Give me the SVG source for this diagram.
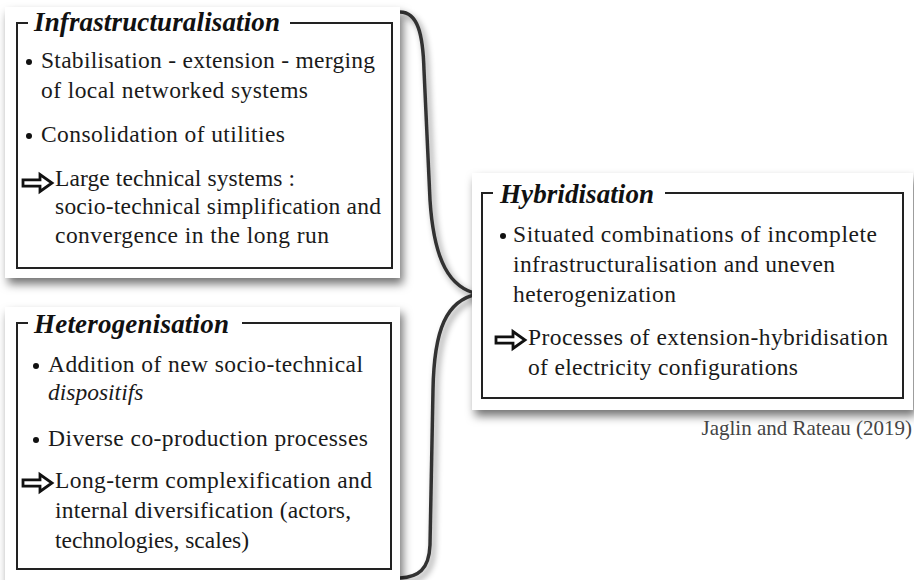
<svg xmlns="http://www.w3.org/2000/svg" width="914" height="580" viewBox="0 0 914 580">
<style>
.t{font-family:"Liberation Serif","Times New Roman",serif;font-size:23.5px;fill:#1a1a1a}
.h{font-family:"Liberation Serif","Times New Roman",serif;font-size:27px;font-weight:bold;font-style:italic;fill:#111}
.i{font-style:italic}
.frame{fill:none;stroke:#222;stroke-width:2}
.panel{fill:#fff;filter:url(#sh)}
.cap{font-family:"Liberation Serif","Times New Roman",serif;font-size:21px;fill:#444}
.b{fill:#111}
</style>
<defs>
<filter id="sh" x="-10%" y="-10%" width="125%" height="130%">
<feDropShadow dx="3" dy="6" stdDeviation="5" flood-color="#000" flood-opacity="0.55"/>
</filter>
<filter id="bsh" x="-30%" y="-5%" width="160%" height="110%">
<feDropShadow dx="3" dy="4" stdDeviation="3" flood-color="#000" flood-opacity="0.45"/>
</filter>
<path id="arr" d="M0,-3.2 L17,-3.2 L17,-8.5 L29,0 L17,8.5 L17,3.2 L0,3.2 Z" fill="#fff" stroke="#111" stroke-width="2.8" stroke-linejoin="miter"/>
</defs>
<rect width="914" height="580" fill="#fff"/>

<g id="connectors">
<path d="M400,12 C418,12 423,35 424,70 L430,200 C434,262 450,288 478,294 C446,300 434,330 433,390 L430,545 C429,570 418,577 400,578" fill="none" stroke="#333" stroke-width="3.5" filter="url(#bsh)"/>
</g>

<g id="infrastructuralisation">
<rect class="panel" x="5" y="7" width="395" height="271"/>
<path class="frame" d="M28,23 L17,23 L17,268 L392,268 L392,23 L290,23"/>
<text class="h" x="34" y="31" textLength="246">Infrastructuralisation</text>
<circle class="b" cx="29" cy="62" r="3"/>
<text class="t" x="41" y="68" textLength="334">Stabilisation - extension - merging</text>
<text class="t" x="41" y="98" textLength="267">of local networked systems</text>
<circle class="b" cx="29" cy="136" r="3"/>
<text class="t" x="41" y="142" textLength="244">Consolidation of utilities</text>
<use href="#arr" x="23" y="183"/>
<text class="t" x="55" y="186" textLength="240">Large technical systems :</text>
<text class="t" x="55" y="214" textLength="326">socio-technical simplification and</text>
<text class="t" x="55" y="243" textLength="274">convergence in the long run</text>
</g>

<g id="heterogenisation">
<rect class="panel" x="5" y="307" width="395" height="280"/>
<path class="frame" d="M28,323 L17,323 L17,569 L391,569 L391,323 L242,323"/>
<text class="h" x="34" y="333" textLength="195">Heterogenisation</text>
<circle class="b" cx="36" cy="366" r="3"/>
<text class="t" x="48" y="372" textLength="315">Addition of new socio-technical</text>
<text class="t i" x="48" y="400">dispositifs</text>
<circle class="b" cx="36" cy="440" r="3"/>
<text class="t" x="48" y="446" textLength="320">Diverse co-production processes</text>
<use href="#arr" x="23" y="483"/>
<text class="t" x="55" y="488" textLength="317">Long-term complexification and</text>
<text class="t" x="55" y="518" textLength="296">internal diversification (actors,</text>
<text class="t" x="55" y="548" textLength="194">technologies, scales)</text>
</g>

<g id="hybridisation">
<rect class="panel" x="472" y="173" width="441" height="237"/>
<path class="frame" d="M493,193 L482,193 L482,398 L903,398 L903,193 L665,193"/>
<text class="h" x="500" y="203" textLength="154">Hybridisation</text>
<circle class="b" cx="503" cy="236" r="3"/>
<text class="t" x="513" y="242" textLength="364">Situated combinations of incomplete</text>
<text class="t" x="513" y="272" textLength="322">infrastructuralisation and uneven</text>
<text class="t" x="513" y="302" textLength="163">heterogenization</text>
<use href="#arr" x="496" y="340"/>
<text class="t" x="528" y="345" textLength="360">Processes of extension-hybridisation</text>
<text class="t" x="528" y="375" textLength="270">of electricity configurations</text>
</g>

<text class="cap" x="912" y="435" text-anchor="end">Jaglin and Rateau (2019)</text>
</svg>
